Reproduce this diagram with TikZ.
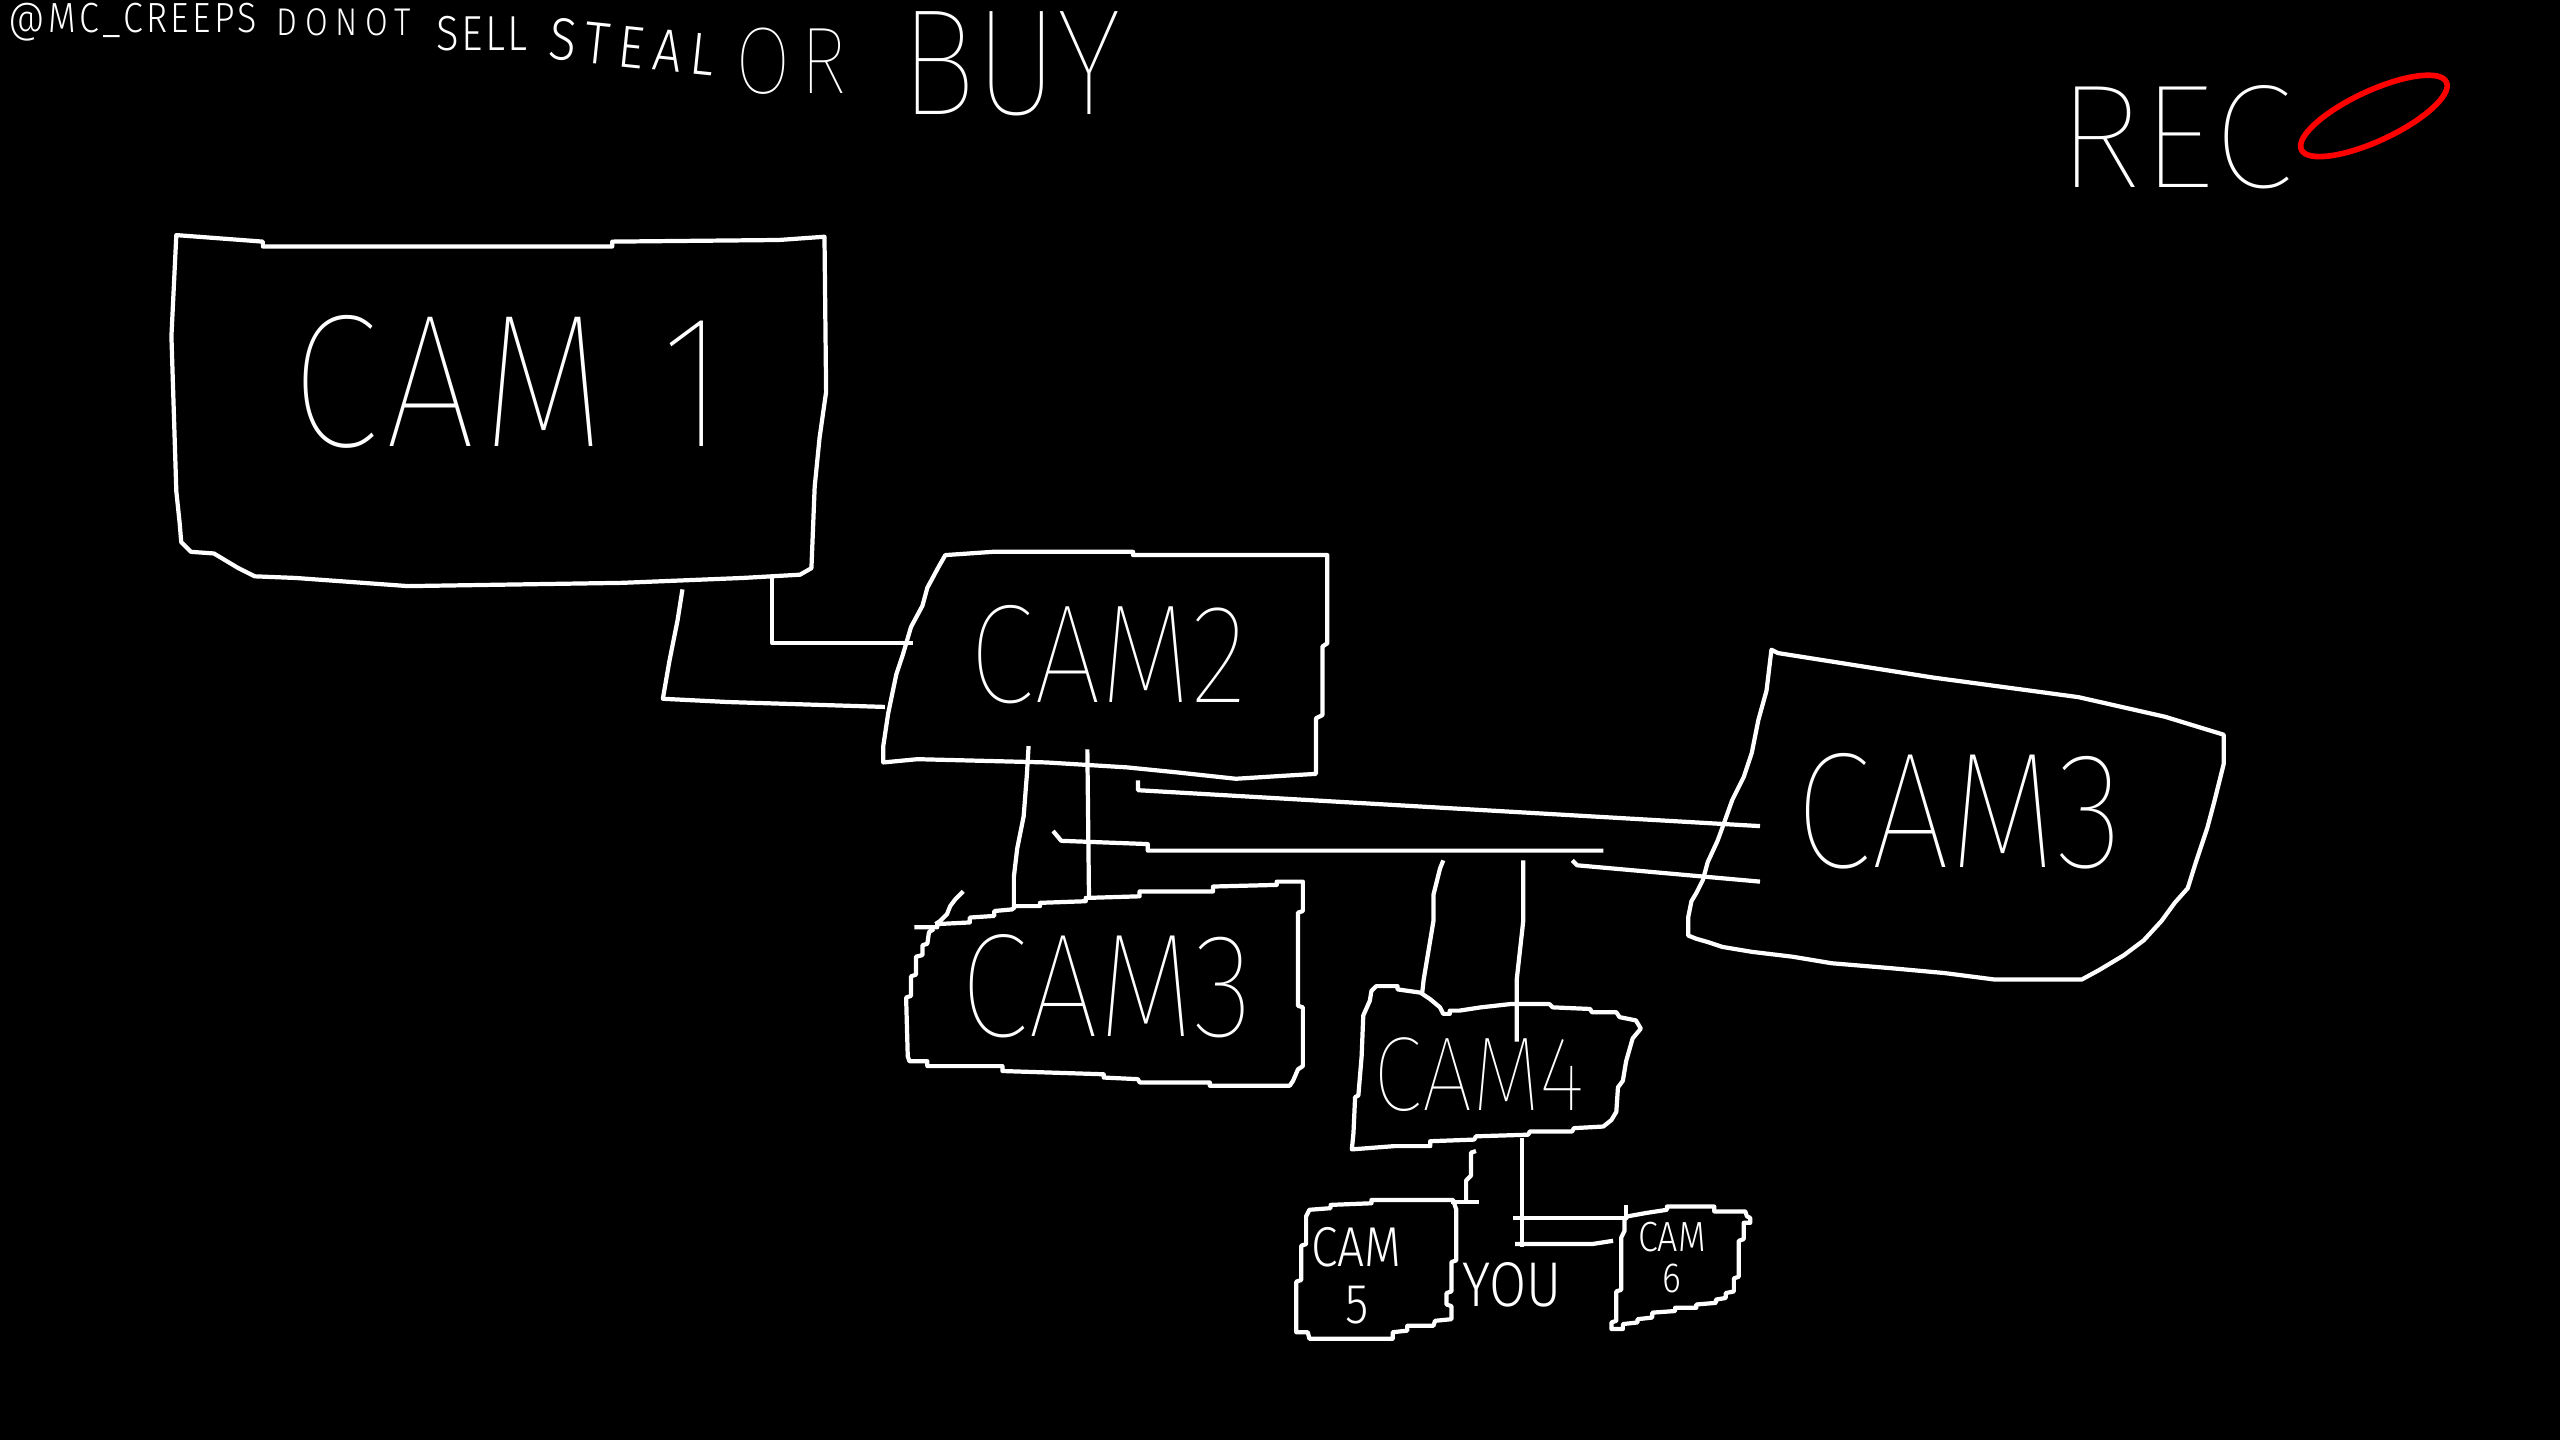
\documentclass[tikz,border=0pt]{standalone}
\usepackage{fontspec}
\newfontfamily\handfont{Fira Sans}[UprightFont=* Light, FakeStretch=0.85]
\newfontfamily\thinfont{Fira Sans}[UprightFont=* Thin, FakeStretch=0.85]
\newfontfamily\recfont{Fira Sans}[UprightFont=* Thin]
\newcommand\handsize[2]{\handfont\fontsize{#1}{#2}\selectfont}
\newcommand\thinsize[2]{\thinfont\fontsize{#1}{#2}\selectfont}
\usetikzlibrary{positioning}

\begin{document}
\begin{tikzpicture}[
    x=0.016327cm, y=-0.016327cm,
    boxline/.style={draw=white, line width=1.2pt, line join=round},
    wire/.style={draw=white, line width=1.2pt, line join=round},
    camtext/.style={text=white, inner sep=0pt, align=center},
]
\fill[black] (0,0) rectangle (1568,882);
\useasboundingbox (0,0) rectangle (1568,882);

% title line
\node[camtext, anchor=base west, font=\handsize{12}{12}\addfontfeature{LetterSpace=8}] (tag) at (5,20) {@MC\_CREEPS};
\node[camtext, anchor=base west, font=\handsize{11}{11}\addfontfeature{LetterSpace=20}] (donot) at (169,22) {DONOT};
\node[camtext, anchor=base west, font=\handsize{14}{14}\addfontfeature{LetterSpace=5}] (sell) at (267,31) {SELL};
\node[camtext, anchor=base west, font=\handsize{17}{17}\addfontfeature{LetterSpace=15}, rotate=-6] (steal) at (335,36) {STEAL};
\node[camtext, anchor=base west, font=\thinsize{27}{27}\addfontfeature{LetterSpace=10}] (or) at (450,57) {OR};
\node[camtext, anchor=base west, font=\thinsize{43}{43}] (buy) at (551,70) {BUY};

% recording mark
\node[camtext, font=\recfont\fontsize{42}{42}\selectfont] (rec) at (1332,84) {REC};
\draw[red, line width=1.6pt, rotate around={25:(1454,71)}] (1454,71) ellipse [x radius=0.80cm, y radius=0.25cm];

% cam 1
\draw[boxline] (108,144) -- (161,148) -- (161,151) -- (375,151) -- (375,148) -- (477,147) -- (505,145)
  -- (506,240) -- (502,268) -- (499,298) -- (497,348) -- (490,352) -- (455,354) -- (381,357)
  -- (250,359) -- (181,354) -- (156,353) -- (146,348) -- (131,339) -- (117,338) -- (111,332)
  -- (110,320) -- (108,301) -- (105,206) -- cycle;
\node[camtext, font=\thinsize{54}{54}\addfontfeature{LetterSpace=4}] (cam1) at (311,234) {CAM 1};

% cam 2
\draw[boxline] (579,340) -- (608,338) -- (694,338) -- (694,340) -- (813,340) -- (813,394) -- (810,396)
  -- (810,438) -- (806,440) -- (806,474) -- (789,475) -- (757,477) -- (720,473) -- (690,470)
  -- (641,467) -- (562,465) -- (541,467) -- (541,457) -- (544,437) -- (549,413) -- (553,401)
  -- (558,384) -- (565,371) -- (568,360) -- (575,347) -- cycle;
\node[camtext, font=\thinsize{40}{40}] (cam2) at (679,401) {CAM2};

% cam 3, lower
\draw[boxline] (560,568) -- (574,568) -- (574,566) -- (594,565) -- (594,562) -- (609,561) -- (609,558)
  -- (620,557) -- (622,555) -- (637,555) -- (637,553) -- (665,552) -- (665,550) -- (698,549)
  -- (698,546) -- (743,546) -- (743,543) -- (782,542) -- (782,540) -- (798,540) -- (798,558)
  -- (795,559) -- (795,616) -- (798,617) -- (798,653) -- (795,655) -- (792,662) -- (790,665)
  -- (741,665) -- (741,663) -- (698,663) -- (697,661) -- (676,660) -- (676,658) -- (614,656)
  -- (614,653) -- (568,653) -- (568,650) -- (557,650) -- (556,647) -- (555,611) -- (558,610)
  -- (558,598) -- (561,597) -- (561,586) -- (565,585) -- (565,579) -- (568,578) -- (569,571) -- (572,569);
\draw[boxline] (590,546) -- (588,548) -- (585,551) -- (582,555) -- (580,560) -- (576,564) -- (573,566);
\node[camtext, font=\thinsize{42}{42}] (cam3a) at (678,604) {CAM3};

% cam 3, right
\draw[boxline] (1085,398) -- (1089,400) -- (1184,415) -- (1273,427) -- (1326,439) -- (1362,450)
  -- (1362,468) -- (1356,492) -- (1352,507) -- (1345,528) -- (1340,544) -- (1332,553) -- (1324,564)
  -- (1313,576) -- (1301,585) -- (1286,594) -- (1275,600) -- (1222,600) -- (1191,596) -- (1158,593)
  -- (1122,590) -- (1098,586) -- (1073,583) -- (1055,580) -- (1046,577) -- (1039,575) -- (1034,573)
  -- (1034,562) -- (1036,552) -- (1039,547) -- (1043,539) -- (1046,528) -- (1052,515) -- (1056,504)
  -- (1061,490) -- (1068,476) -- (1073,461) -- (1077,441) -- (1082,423) -- cycle;
\node[camtext, font=\thinsize{47}{47}] (cam3b) at (1200,497) {CAM3};

% cam 4
\draw[boxline] (843,604) -- (856,604) -- (856,606) -- (870,608) -- (876,612) -- (882,617) -- (884,621)
  -- (888,621) -- (888,619) -- (894,619) -- (907,617) -- (925,615) -- (949,615) -- (951,617)
  -- (974,618) -- (975,620) -- (990,620) -- (992,623) -- (1002,625) -- (1005,630) -- (1000,636)
  -- (998,643) -- (996,650) -- (994,662) -- (991,666) -- (990,681) -- (987,686) -- (982,690)
  -- (964,691) -- (963,693) -- (937,693) -- (936,695) -- (904,696) -- (903,698) -- (876,699)
  -- (876,702) -- (854,702) -- (828,704) -- (829,694) -- (830,672) -- (832,671) -- (834,647)
  -- (835,622) -- (839,613) -- (840,607) -- cycle;
\node[camtext, font=\thinsize{30}{30}] (cam4) at (906,658) {CAM4};

% cam 5
\draw[boxline] (802,741) -- (815,740) -- (815,738) -- (840,737) -- (840,735) -- (890,735) -- (892,741)
  -- (892,772) -- (889,773) -- (889,791) -- (886,792) -- (886,799) -- (889,800) -- (889,808)
  -- (879,809) -- (878,812) -- (862,812) -- (862,815) -- (853,816) -- (853,820) -- (802,820)
  -- (801,816) -- (794,816) -- (794,785) -- (797,784) -- (797,763) -- (800,762) -- (800,745) -- cycle;
\node[camtext, font=\handsize{16}{16}] (cam5) at (831,764) {CAM};
\node[camtext, font=\handsize{16}{16}, below=5pt of cam5] (cam5n) {5};

% cam 6
\draw[boxline] (1008,743) -- (1021,741) -- (1021,739) -- (1050,739) -- (1050,742) -- (1069,742)
  -- (1070,745) -- (1072,746) -- (1072,749) -- (1068,749) -- (1068,759) -- (1065,760) -- (1065,782)
  -- (1062,783) -- (1062,791) -- (1057,792) -- (1057,795) -- (1051,796) -- (1051,798) -- (1039,799)
  -- (1039,801) -- (1026,801) -- (1026,803) -- (1012,804) -- (1012,807) -- (1003,808) -- (1003,810)
  -- (994,811) -- (994,814) -- (987,814) -- (987,810) -- (990,809) -- (990,791) -- (993,790)
  -- (993,758) -- (995,754) -- (995,747) -- (997,745) -- cycle;
\node[camtext, font=\handsize{12}{12}] (cam6) at (1024,758) {CAM};
\node[camtext, font=\handsize{12}{12}, below=3pt of cam6] (cam6n) {6};

\node[camtext, font=\handsize{18}{18}] (you) at (926,787) {YOU};

% wires
\coordinate (c1a) at (473,354);
\coordinate (c2a) at (559,394);
\coordinate (c1b) at (418,361);
\coordinate (c2b) at (542,433);
\draw[wire] (c1a) |- (c2a);
\draw[wire] (c1b) -- (415,380) -- (410,405) -- (406,428) -- (446,430) -- (c2b);

\coordinate (c2c) at (630,457);
\coordinate (c3c) at (621,557);
\coordinate (c2d) at (666,459);
\coordinate (c3d) at (667,549);
\draw[wire] (c2c) -- (629,474) -- (627,500) -- (623,520) -- (621,537) -- (c3c);
\draw[wire] (c2d) -- (c3d);

\coordinate (busw) at (645,509);
\coordinate (buse) at (982,521);
\draw[wire] (busw) -- (650,515) -- (703,517) -- (703,521) -- (buse);

\coordinate (c2f) at (697,478);
\coordinate (c3f) at (1078,506);
\draw[wire] (c2f) -- (697,484) -- (c3f);
\coordinate (gw) at (963,527);
\coordinate (c3g) at (1078,540);
\draw[wire] (gw) -- (966,530) -- (c3g);

\coordinate (busa) at (884,527);
\coordinate (c4a) at (871,609);
\coordinate (busb) at (933,527);
\coordinate (c4b) at (929,638);
\draw[wire] (busa) -- (882,532) -- (878,548) -- (878,564) -- (872,600) -- (c4a);
\draw[wire] (busb) -- (933,564) -- (929,600) -- (c4b);

\coordinate (c4j) at (904,705);
\coordinate (c5j) at (889,736);
\draw[wire] (c4j) -- (901,706) -- (901,720) -- (898,723) -- (898,736);
\draw[wire] (c5j) -- (906,736);

\coordinate (c4k) at (932,697);
\coordinate (kt) at (927,746);
\coordinate (kb) at (928,762);
\coordinate (c6k) at (996,746);
\coordinate (c6l) at (988,760);
\draw[wire] (c4k) -- (932,764);
\draw[wire] (kt) -- (c6k) -- (996,738);
\draw[wire] (kb) -- (975,762) -- (c6l);
\end{tikzpicture}
\end{document}
